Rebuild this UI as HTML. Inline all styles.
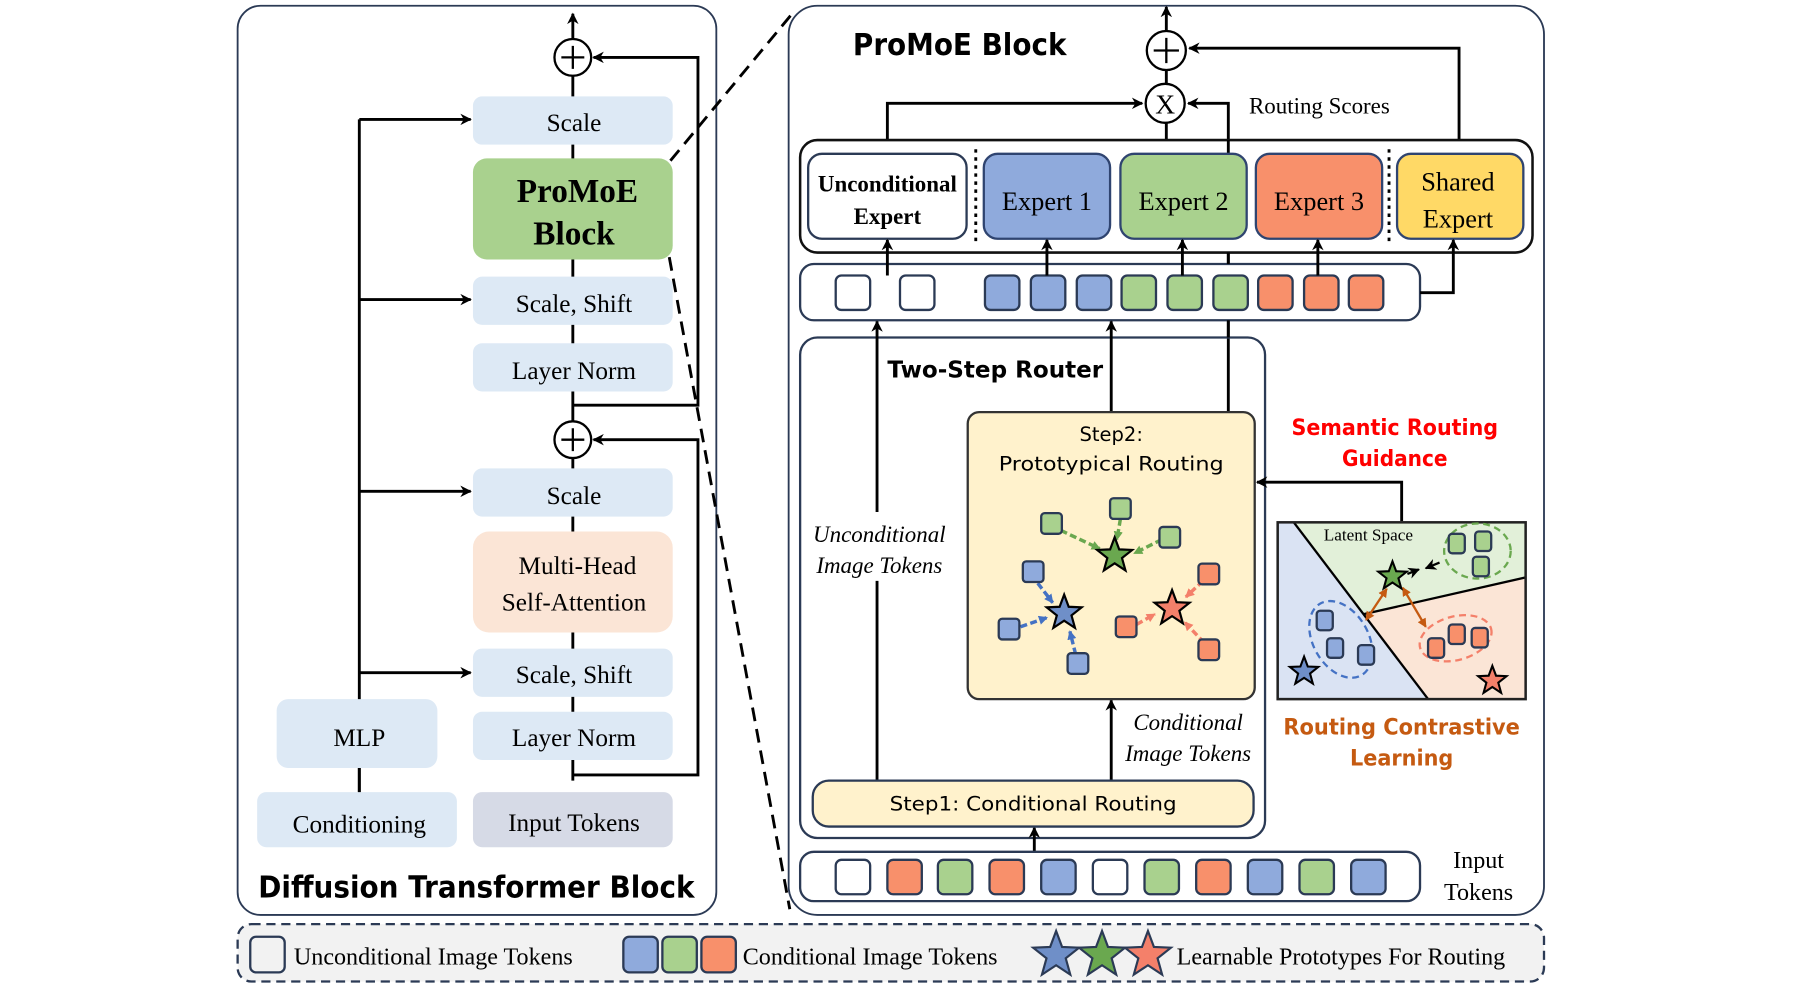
<!DOCTYPE html>
<html><head><meta charset="utf-8"><style>
html,body{margin:0;padding:0;background:#fff;}
svg{display:block;}
.s{font-family:"Liberation Serif",serif;}
.c{font-family:"DejaVu Sans",sans-serif;font-weight:bold;}
</style></head><body>
<svg width="1800" height="993" viewBox="0 0 1568 865" preserveAspectRatio="none" xmlns="http://www.w3.org/2000/svg">
<defs>
<marker id="a" markerWidth="10" markerHeight="10" refX="9" refY="5" orient="auto" markerUnits="userSpaceOnUse"><path d="M0,0 L10,5 L0,10 L3,5 z" fill="#000"/></marker>
<marker id="ag" markerWidth="8" markerHeight="8" refX="7" refY="4" orient="auto" markerUnits="userSpaceOnUse"><path d="M0,0 L8,4 L0,8 z" fill="#6aa84f"/></marker>
<marker id="ab" markerWidth="8" markerHeight="8" refX="7" refY="4" orient="auto" markerUnits="userSpaceOnUse"><path d="M0,0 L8,4 L0,8 z" fill="#4472c4"/></marker>
<marker id="ao" markerWidth="8" markerHeight="8" refX="7" refY="4" orient="auto" markerUnits="userSpaceOnUse"><path d="M0,0 L8,4 L0,8 z" fill="#f4806a"/></marker>
<marker id="ac" markerWidth="8" markerHeight="8" refX="7" refY="4" orient="auto-start-reverse" markerUnits="userSpaceOnUse"><path d="M0,0 L8,4 L0,8 z" fill="#c55a11"/></marker>
<polygon id="st" points="0,-1 0.247,-0.34 0.951,-0.309 0.399,0.13 0.588,0.809 0,0.42 -0.588,0.809 -0.399,0.13 -0.951,-0.309 -0.247,-0.34"/>
</defs>

<!-- LEFT PANEL -->
<rect x="207" y="5" width="417" height="792" rx="20" fill="#fff" stroke="#2b3a55" stroke-width="1.6"/>
<g stroke="#000" stroke-width="2.5" fill="none">
<line x1="499" y1="34" x2="499" y2="12" marker-end="url(#a)"/>
<line x1="499" y1="66" x2="499" y2="680"/>
<polyline points="499,353 608,353 608,50 517,50" marker-end="url(#a)"/>
<polyline points="499,675 608,675 608,383 517,383" marker-end="url(#a)"/>
<line x1="313" y1="690" x2="313" y2="104"/>
<line x1="313" y1="104" x2="410" y2="104" marker-end="url(#a)"/>
<line x1="313" y1="261" x2="410" y2="261" marker-end="url(#a)"/>
<line x1="313" y1="428" x2="410" y2="428" marker-end="url(#a)"/>
<line x1="313" y1="586" x2="410" y2="586" marker-end="url(#a)"/>
</g>
<circle cx="499" cy="50" r="16" fill="#fff" stroke="#000" stroke-width="2"/>
<path d="M489,50 H509 M499,40 V60" stroke="#000" stroke-width="2"/>
<circle cx="499" cy="383" r="16" fill="#fff" stroke="#000" stroke-width="2"/>
<path d="M489,383 H509 M499,373 V393" stroke="#000" stroke-width="2"/>
<g class="s" font-size="22" text-anchor="middle" fill="#000">
<rect x="412" y="84" width="174" height="42" rx="8" fill="#dde9f5"/><text x="500" y="114">Scale</text>
<rect x="412" y="138" width="174" height="88" rx="12" fill="#a9d18e"/>
<text x="503" y="176" font-size="29" font-weight="bold">ProMoE</text><text x="500" y="213" font-size="29" font-weight="bold">Block</text>
<rect x="412" y="241" width="174" height="42" rx="8" fill="#dde9f5"/><text x="500" y="272">Scale, Shift</text>
<rect x="412" y="299" width="174" height="42" rx="8" fill="#dde9f5"/><text x="500" y="330">Layer Norm</text>
<rect x="412" y="408" width="174" height="42" rx="8" fill="#dde9f5"/><text x="500" y="439">Scale</text>
<rect x="412" y="463" width="174" height="88" rx="14" fill="#fbe5d6"/><text x="503" y="500">Multi-Head</text><text x="500" y="532">Self-Attention</text>
<rect x="412" y="565" width="174" height="42" rx="8" fill="#dde9f5"/><text x="500" y="595">Scale, Shift</text>
<rect x="412" y="620" width="174" height="42" rx="8" fill="#dde9f5"/><text x="500" y="650">Layer Norm</text>
<rect x="412" y="690" width="174" height="48" rx="8" fill="#d6dae6"/><text x="500" y="724">Input Tokens</text>
<rect x="241" y="609" width="140" height="60" rx="10" fill="#dde9f5"/><text x="313" y="650">MLP</text>
<rect x="224" y="690" width="174" height="48" rx="8" fill="#dde9f5"/><text x="313" y="725">Conditioning</text>
</g>
<line x1="313" y1="669" x2="313" y2="690" stroke="#000" stroke-width="2.5"/>
<text x="415" y="782" class="c" font-size="26" text-anchor="middle" textLength="380" lengthAdjust="spacingAndGlyphs">Diffusion Transformer Block</text>

<!-- dashed zoom lines -->
<g stroke="#000" stroke-width="2.5" stroke-dasharray="12,7" fill="none">
<line x1="584" y1="140" x2="690" y2="12"/>
<line x1="583" y1="224" x2="688" y2="792"/>
</g>

<!-- RIGHT PANEL -->
<rect x="687" y="5" width="658" height="792" rx="25" fill="#fff" stroke="#2b3a55" stroke-width="1.6"/>
<text x="743" y="48" class="c" font-size="26" textLength="186" lengthAdjust="spacingAndGlyphs">ProMoE Block</text>
<g stroke="#000" stroke-width="2.5" fill="none">
<line x1="1016" y1="27" x2="1016" y2="6" marker-end="url(#a)"/>
<line x1="1016" y1="61" x2="1016" y2="122"/>
<polyline points="773,134 773,90 995,90" marker-end="url(#a)"/>
<polyline points="1070,122 1070,90 1035,90" marker-end="url(#a)"/>
<polyline points="1271,134 1271,42 1036,42" marker-end="url(#a)"/>
<line x1="1070" y1="359" x2="1070" y2="220"/>
</g>
<circle cx="1016" cy="44" r="17" fill="#fff" stroke="#000" stroke-width="2"/>
<path d="M1005,44 H1027 M1016,33 V55" stroke="#000" stroke-width="2"/>
<circle cx="1015" cy="90" r="17" fill="#fff" stroke="#000" stroke-width="2"/>
<text x="1015" y="99" class="s" font-size="24" text-anchor="middle">X</text>
<text x="1088" y="99" class="s" font-size="20">Routing Scores</text>

<rect x="697" y="122" width="638" height="98" rx="15" fill="#fff" stroke="#111" stroke-width="2.2"/>
<line x1="1070" y1="122" x2="1070" y2="134" stroke="#000" stroke-width="2.5"/>
<g class="s" text-anchor="middle" font-size="23">
<rect x="704" y="134" width="138" height="74" rx="12" fill="#fff" stroke="#2b3a55" stroke-width="2"/>
<text x="773" y="167" font-size="20" font-weight="bold">Unconditional</text><text x="773" y="195" font-size="20" font-weight="bold">Expert</text>
<rect x="857" y="134" width="110" height="74" rx="12" fill="#8faadc" stroke="#2f4470" stroke-width="2"/><text x="912" y="183">Expert 1</text>
<rect x="976" y="134" width="110" height="74" rx="12" fill="#a9d18e" stroke="#2f4470" stroke-width="2"/><text x="1031" y="183">Expert 2</text>
<rect x="1094" y="134" width="110" height="74" rx="12" fill="#f8906b" stroke="#2f4470" stroke-width="2"/><text x="1149" y="183">Expert 3</text>
<rect x="1217" y="134" width="110" height="74" rx="12" fill="#ffd966" stroke="#2f4470" stroke-width="2"/><text x="1270" y="166">Shared</text><text x="1270" y="198">Expert</text>
</g>
<g stroke="#000" stroke-width="2.5" stroke-dasharray="3,4"><line x1="850" y1="130" x2="850" y2="212"/><line x1="1210" y1="130" x2="1210" y2="212"/><line x1="835" y1="238" x2="835" y2="272"/></g>

<rect x="697" y="230" width="540" height="49" rx="12" fill="#fff" stroke="#2b3a55" stroke-width="2"/>
<g stroke="#2b3a55" stroke-width="2">
<rect x="728" y="240" width="30" height="30" rx="5" fill="#fff"/><rect x="784" y="240" width="30" height="30" rx="5" fill="#fff"/>
<rect x="858" y="240" width="30" height="30" rx="5" fill="#8faadc"/><rect x="898" y="240" width="30" height="30" rx="5" fill="#8faadc"/><rect x="938" y="240" width="30" height="30" rx="5" fill="#8faadc"/>
<rect x="977" y="240" width="30" height="30" rx="5" fill="#a9d18e"/><rect x="1017" y="240" width="30" height="30" rx="5" fill="#a9d18e"/><rect x="1057" y="240" width="30" height="30" rx="5" fill="#a9d18e"/>
<rect x="1096" y="240" width="30" height="30" rx="5" fill="#f8906b"/><rect x="1136" y="240" width="30" height="30" rx="5" fill="#f8906b"/><rect x="1175" y="240" width="30" height="30" rx="5" fill="#f8906b"/>
</g>
<g stroke="#000" stroke-width="2.5" fill="none">
<line x1="773" y1="240" x2="773" y2="209" marker-end="url(#a)"/>
<line x1="912" y1="240" x2="912" y2="209" marker-end="url(#a)"/>
<line x1="1030" y1="240" x2="1030" y2="209" marker-end="url(#a)"/>
<line x1="1148" y1="240" x2="1148" y2="209" marker-end="url(#a)"/>
<polyline points="1237,255 1266,255 1266,209" marker-end="url(#a)"/>
<line x1="1070" y1="230" x2="1070" y2="220"/>
</g>

<!-- Two-step router -->
<rect x="697" y="294" width="405" height="436" rx="15" fill="none" stroke="#2b3a55" stroke-width="2"/>
<text x="773" y="329" class="c" font-size="20" textLength="188" lengthAdjust="spacingAndGlyphs">Two-Step Router</text>
<g stroke="#000" stroke-width="2.5" fill="none">
<line x1="764" y1="680" x2="764" y2="506"/>
<line x1="764" y1="446" x2="764" y2="280" marker-end="url(#a)"/>
<line x1="968" y1="359" x2="968" y2="280" marker-end="url(#a)"/>
<line x1="968" y1="680" x2="968" y2="610" marker-end="url(#a)"/>
<line x1="901" y1="742" x2="901" y2="721" marker-end="url(#a)"/>
<line x1="1070" y1="294" x2="1070" y2="279"/>
</g>
<g class="s" font-style="italic" font-size="20" text-anchor="middle">
<text x="766" y="472">Unconditional</text><text x="766" y="499">Image Tokens</text>
<text x="1035" y="636">Conditional</text><text x="1035" y="663">Image Tokens</text>
</g>
<rect x="843" y="359" width="250" height="250" rx="10" fill="#fff2cc" stroke="#333" stroke-width="2"/>
<text x="968" y="384" class="c" font-size="17" text-anchor="middle" style="font-weight:normal">Step2:</text>
<text x="968" y="410" class="c" font-size="17" text-anchor="middle" style="font-weight:normal" textLength="196" lengthAdjust="spacingAndGlyphs">Prototypical Routing</text>
<!-- scatter -->
<g stroke-width="3" stroke-dasharray="6,3" fill="none">
<line x1="924" y1="462" x2="958" y2="478" stroke="#6aa84f" marker-end="url(#ag)"/>
<line x1="976" y1="452" x2="973" y2="470" stroke="#6aa84f" marker-end="url(#ag)"/>
<line x1="1012" y1="470" x2="988" y2="482" stroke="#6aa84f" marker-end="url(#ag)"/>
<line x1="904" y1="508" x2="917" y2="525" stroke="#4472c4" marker-end="url(#ab)"/>
<line x1="889" y1="546" x2="912" y2="538" stroke="#4472c4" marker-end="url(#ab)"/>
<line x1="937" y1="570" x2="932" y2="550" stroke="#4472c4" marker-end="url(#ab)"/>
<line x1="1048" y1="506" x2="1033" y2="520" stroke="#f4806a" marker-end="url(#ao)"/>
<line x1="990" y1="544" x2="1006" y2="535" stroke="#f4806a" marker-end="url(#ao)"/>
<line x1="1049" y1="560" x2="1032" y2="542" stroke="#f4806a" marker-end="url(#ao)"/>
</g>
<g stroke="#2b3a55" stroke-width="2">
<rect x="907" y="447" width="18" height="18" rx="3" fill="#a9d18e"/><rect x="967" y="434" width="18" height="18" rx="3" fill="#a9d18e"/><rect x="1010" y="459" width="18" height="18" rx="3" fill="#a9d18e"/>
<rect x="891" y="489" width="18" height="18" rx="3" fill="#8faadc"/><rect x="870" y="539" width="18" height="18" rx="3" fill="#8faadc"/><rect x="930" y="569" width="18" height="18" rx="3" fill="#8faadc"/>
<rect x="1044" y="491" width="18" height="18" rx="3" fill="#f8906b"/><rect x="972" y="537" width="18" height="18" rx="3" fill="#f8906b"/><rect x="1044" y="557" width="18" height="18" rx="3" fill="#f8906b"/>
</g>
<use href="#st" transform="translate(971,484) scale(16)" fill="#6aa84f" stroke="#000" stroke-width="0.12"/>
<use href="#st" transform="translate(927,534) scale(16)" fill="#6f8fc8" stroke="#000" stroke-width="0.12"/>
<use href="#st" transform="translate(1021,530) scale(16)" fill="#f4806a" stroke="#000" stroke-width="0.12"/>

<rect x="708" y="680" width="384" height="40" rx="14" fill="#fff2cc" stroke="#2b3a55" stroke-width="2"/>
<text x="900" y="706" class="c" font-size="17" text-anchor="middle" style="font-weight:normal" textLength="250" lengthAdjust="spacingAndGlyphs">Step1: Conditional Routing</text>

<!-- input tokens -->
<rect x="697" y="742" width="540" height="43" rx="12" fill="#fff" stroke="#2b3a55" stroke-width="2"/>
<g stroke="#2b3a55" stroke-width="2">
<rect x="728" y="749" width="30" height="30" rx="5" fill="#fff"/>
<rect x="773" y="749" width="30" height="30" rx="5" fill="#f8906b"/>
<rect x="817" y="749" width="30" height="30" rx="5" fill="#a9d18e"/>
<rect x="862" y="749" width="30" height="30" rx="5" fill="#f8906b"/>
<rect x="907" y="749" width="30" height="30" rx="5" fill="#8faadc"/>
<rect x="952" y="749" width="30" height="30" rx="5" fill="#fff"/>
<rect x="997" y="749" width="30" height="30" rx="5" fill="#a9d18e"/>
<rect x="1042" y="749" width="30" height="30" rx="5" fill="#f8906b"/>
<rect x="1087" y="749" width="30" height="30" rx="5" fill="#8faadc"/>
<rect x="1132" y="749" width="30" height="30" rx="5" fill="#a9d18e"/>
<rect x="1177" y="749" width="30" height="30" rx="5" fill="#8faadc"/>
</g>
<text x="1288" y="756" class="s" font-size="21" text-anchor="middle">Input</text>
<text x="1288" y="784" class="s" font-size="21" text-anchor="middle">Tokens</text>

<!-- semantic guidance -->
<text x="1215" y="379" class="c" font-size="19" fill="#ff0000" text-anchor="middle" textLength="180" lengthAdjust="spacingAndGlyphs">Semantic Routing</text>
<text x="1215" y="406" class="c" font-size="19" fill="#ff0000" text-anchor="middle" textLength="92" lengthAdjust="spacingAndGlyphs">Guidance</text>
<polyline points="1221,454 1221,420 1095,420" fill="none" stroke="#000" stroke-width="2.5" marker-end="url(#a)"/>

<!-- latent space -->
<polygon points="1113,455 1127,455 1244,609 1113,609" fill="#dae3f3"/>
<polygon points="1127,455 1329,455 1329,503 1188,535" fill="#e2f0d9"/>
<polygon points="1188,535 1329,503 1329,609 1244,609" fill="#fbe5d6"/>
<line x1="1127" y1="455" x2="1244" y2="609" stroke="#000" stroke-width="2"/>
<line x1="1188" y1="535" x2="1329" y2="503" stroke="#000" stroke-width="2"/>
<rect x="1113" y="455" width="216" height="154" fill="none" stroke="#222" stroke-width="2.2"/>
<text x="1192" y="471" class="s" font-size="15" text-anchor="middle">Latent Space</text>
<ellipse cx="1287" cy="480" rx="29" ry="24" fill="none" stroke="#6aa84f" stroke-width="2" stroke-dasharray="6,4"/>
<ellipse cx="1168" cy="557" rx="24" ry="36" transform="rotate(-30 1168 557)" fill="none" stroke="#4472c4" stroke-width="2" stroke-dasharray="6,4"/>
<ellipse cx="1268" cy="556" rx="32" ry="19" transform="rotate(-15 1268 556)" fill="none" stroke="#f4806a" stroke-width="2" stroke-dasharray="6,4"/>
<g stroke="#2b3a55" stroke-width="2">
<rect x="1262" y="465" width="14" height="17" rx="3" fill="#a9d18e"/><rect x="1285" y="463" width="14" height="17" rx="3" fill="#a9d18e"/><rect x="1283" y="485" width="14" height="17" rx="3" fill="#a9d18e"/>
<rect x="1147" y="532" width="14" height="17" rx="3" fill="#8faadc"/><rect x="1156" y="556" width="14" height="17" rx="3" fill="#8faadc"/><rect x="1183" y="562" width="14" height="17" rx="3" fill="#8faadc"/>
<rect x="1244" y="556" width="14" height="17" rx="3" fill="#f8906b"/><rect x="1262" y="544" width="14" height="17" rx="3" fill="#f8906b"/><rect x="1282" y="547" width="14" height="17" rx="3" fill="#f8906b"/>
</g>
<g stroke="#c55a11" stroke-width="2" fill="none">
<line x1="1208" y1="513" x2="1190" y2="540" marker-start="url(#ac)" marker-end="url(#ac)"/>
<line x1="1222" y1="512" x2="1242" y2="546" marker-start="url(#ac)" marker-end="url(#ac)"/>
</g>
<line x1="1226" y1="500" x2="1236" y2="496" stroke="#000" stroke-width="2" marker-end="url(#a)"/>
<line x1="1254" y1="490" x2="1242" y2="495" stroke="#000" stroke-width="2" marker-end="url(#a)"/>
<use href="#st" transform="translate(1213,502) scale(13)" fill="#6aa84f" stroke="#000" stroke-width="0.14"/>
<use href="#st" transform="translate(1136,585) scale(13)" fill="#6f8fc8" stroke="#000" stroke-width="0.14"/>
<use href="#st" transform="translate(1300,593) scale(13)" fill="#f4806a" stroke="#000" stroke-width="0.14"/>
<text x="1221" y="640" class="c" font-size="19" fill="#c55a11" text-anchor="middle" textLength="206" lengthAdjust="spacingAndGlyphs">Routing Contrastive</text>
<text x="1221" y="667" class="c" font-size="19" fill="#c55a11" text-anchor="middle" textLength="90" lengthAdjust="spacingAndGlyphs">Learning</text>

<!-- legend -->
<rect x="207" y="805" width="1138" height="50" rx="12" fill="#f2f2f2" stroke="#2b3a55" stroke-width="2" stroke-dasharray="8,5"/>
<g stroke="#2b3a55" stroke-width="2">
<rect x="218" y="816" width="30" height="31" rx="5" fill="#f2f2f2"/>
<rect x="543" y="816" width="30" height="31" rx="5" fill="#8faadc"/>
<rect x="577" y="816" width="30" height="31" rx="5" fill="#a9d18e"/>
<rect x="611" y="816" width="30" height="31" rx="5" fill="#f8906b"/>
</g>
<g class="s" font-size="21">
<text x="256" y="840">Unconditional Image Tokens</text>
<text x="647" y="840">Conditional Image Tokens</text>
<text x="1025" y="840">Learnable Prototypes For Routing</text>
</g>
<use href="#st" transform="translate(920,832) scale(21)" fill="#6f8fc8" stroke="#2b3a55" stroke-width="0.09"/>
<use href="#st" transform="translate(960,832) scale(21)" fill="#6aa84f" stroke="#2b3a55" stroke-width="0.09"/>
<use href="#st" transform="translate(1000,832) scale(21)" fill="#f4806a" stroke="#2b3a55" stroke-width="0.09"/>
</svg>
</body></html>
